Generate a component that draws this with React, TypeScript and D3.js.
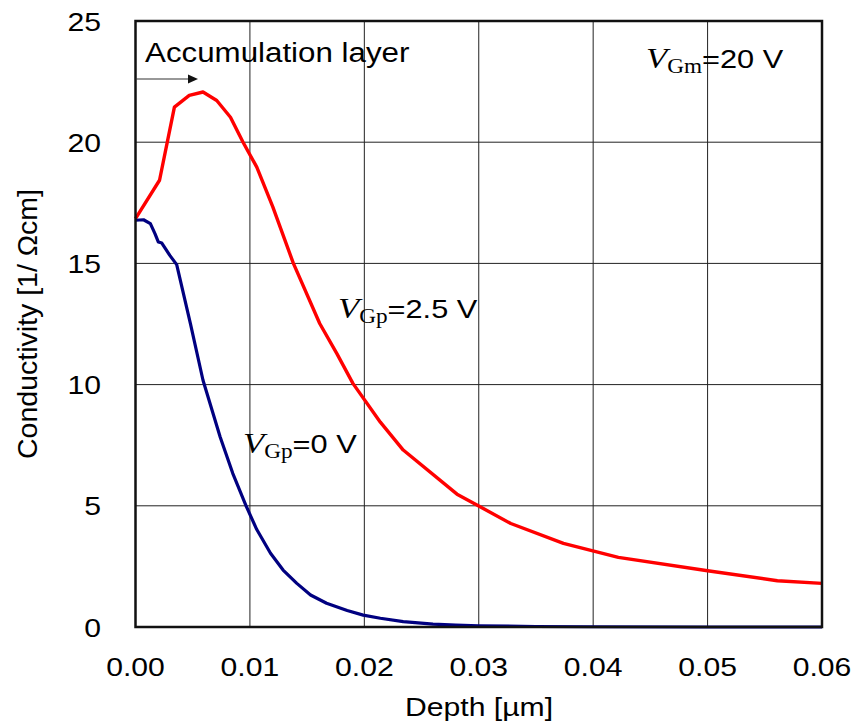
import * as d3 from "d3";

// V_Gp = 2.5 V curve
const redDepth = [0, 0.0021, 0.0034, 0.0047, 0.0059, 0.0071, 0.0083, 0.0094, 0.0106, 0.012, 0.0138, 0.0161, 0.0176, 0.019, 0.0214, 0.0234, 0.0281, 0.03, 0.0328, 0.0374, 0.0422, 0.05, 0.0561, 0.06];
const redValues = [16.85, 18.43, 21.45, 21.93, 22.07, 21.72, 21.03, 20.0, 18.97, 17.33, 15.0, 12.52, 11.28, 10.05, 8.45, 7.3, 5.48, 4.99, 4.27, 3.45, 2.87, 2.32, 1.91, 1.8];

// V_Gp = 0 V curve
const blueDepth = [0, 0.0007, 0.0013, 0.0017, 0.002, 0.0023, 0.003, 0.0036, 0.0048, 0.0059, 0.0074, 0.0085, 0.0097, 0.0106, 0.0118, 0.0129, 0.0141, 0.0153, 0.0167, 0.0185, 0.0199, 0.0214, 0.0234, 0.026, 0.028, 0.03, 0.035, 0.04, 0.05, 0.06];
const blueValues = [16.78, 16.8, 16.64, 16.23, 15.88, 15.84, 15.33, 14.95, 12.52, 10.18, 7.84, 6.34, 4.96, 4.02, 3.04, 2.35, 1.8, 1.32, 0.98, 0.68, 0.49, 0.36, 0.22, 0.12, 0.08, 0.05, 0.02, 0.01, 0, 0];

const xTicks = [0, 0.01, 0.02, 0.03, 0.04, 0.05, 0.06];
const yTicks = [0, 5, 10, 15, 20, 25];

const SANS = "'Liberation Sans', Arial, sans-serif";
const SERIF = "'Liberation Serif', 'Times New Roman', serif";
const SX = 1.16; // the original lettering is a little wide

export default function App() {
  const x = d3.scaleLinear().domain([0, 0.06]).range([135.5, 822]);
  const y = d3.scaleLinear().domain([0, 25]).range([627, 21]);

  const line = d3
    .line<[number, number]>()
    .x((d) => x(d[0]))
    .y((d) => y(d[1]));

  const red = redDepth.map((d, i) => [d, redValues[i]] as [number, number]);
  const blue = blueDepth.map((d, i) => [d, blueValues[i]] as [number, number]);

  // annotation label: italic V, serif subscript, then the value
  const label = (lx, ly, sub, rest) => (
    <text transform={`translate(${lx},${ly}) scale(${SX},1)`}>
      <tspan fontFamily={SERIF} fontStyle="italic" fontSize={30}>V</tspan>
      <tspan fontFamily={SERIF} fontSize={20} dy={5}>{sub}</tspan>
      <tspan fontFamily={SANS} fontSize={26.5} dy={-5}>{rest}</tspan>
    </text>
  );

  return (
    <svg width={852} height={724} style={{ position: "absolute", left: 0, top: 0, background: "#fff" }}>
      {/* grid */}
      {xTicks.slice(1, -1).map((t) => (
        <line key={"gx" + t} x1={x(t)} x2={x(t)} y1={y(25)} y2={y(0)} stroke="#222" strokeWidth={1} />
      ))}
      {yTicks.slice(1, -1).map((t) => (
        <line key={"gy" + t} x1={x(0)} x2={x(0.06)} y1={y(t)} y2={y(t)} stroke="#222" strokeWidth={1} />
      ))}

      <path d={line(red)!} fill="none" stroke="#ff0000" strokeWidth={3.4} strokeLinejoin="round" />
      <path d={line(blue)!} fill="none" stroke="#000080" strokeWidth={3.2} strokeLinejoin="round" />

      {/* frame */}
      <rect x={x(0)} y={y(25)} width={x(0.06) - x(0)} height={y(0) - y(25)} fill="none" stroke="#111" strokeWidth={2.5} />

      {/* tick labels */}
      {xTicks.map((t) => (
        <text key={"tx" + t} transform={`translate(${x(t)},${y(0) + 49}) scale(${SX},1)`} textAnchor="middle" fontFamily={SANS} fontSize={26}>
          {t.toFixed(2)}
        </text>
      ))}
      {yTicks.map((t) => (
        <text key={"ty" + t} transform={`translate(101,${y(t) + 9.5}) scale(${SX},1)`} textAnchor="end" fontFamily={SANS} fontSize={26}>
          {t}
        </text>
      ))}

      {/* axis titles */}
      <text transform={`translate(479,716) scale(${SX},1)`} textAnchor="middle" fontFamily={SANS} fontSize={26}>
        Depth [µm]
      </text>
      <text transform="translate(37,324) rotate(-90)" textAnchor="middle" fontFamily={SANS} fontSize={28.5}>
        Conductivity [1/ Ωcm]
      </text>

      {/* annotations */}
      <text transform={`translate(145,62) scale(${SX},1)`} fontFamily={SANS} fontSize={27}>
        Accumulation layer
      </text>
      <line x1={x(0)} x2={190} y1={79} y2={79} stroke="#333" strokeWidth={1.2} />
      <path d="M188,74.5 L198,79 L188,83.5 Z" fill="#111" />

      {label(646, 68, "Gm", "=20 V")}
      {label(338, 318, "Gp", "=2.5 V")}
      {label(243, 453, "Gp", "=0 V")}
    </svg>
  );
}
